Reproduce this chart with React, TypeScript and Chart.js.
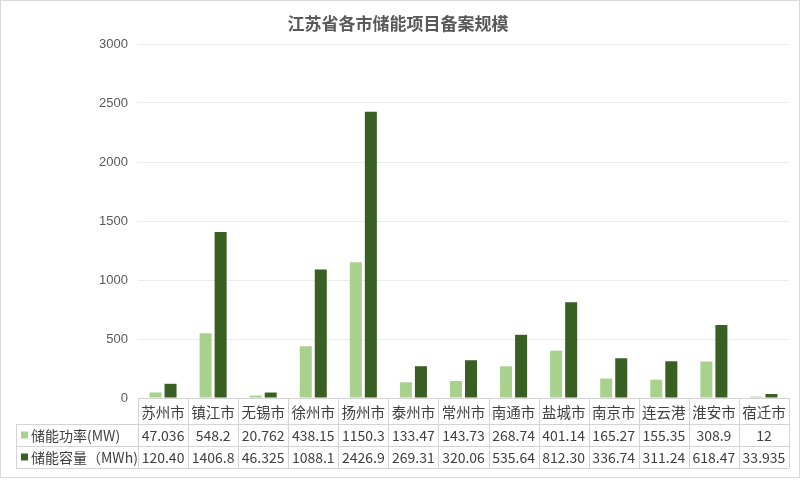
import { useEffect, useRef } from "react";
import Chart from "chart.js/auto";

const title = "江苏省各市储能项目备案规模";
const cities = [
  "苏州市", "镇江市", "无锡市", "徐州市", "扬州市", "泰州市", "常州市",
  "南通市", "盐城市", "南京市", "连云港", "淮安市", "宿迁市",
];
const powerLabel = "储能功率(MW)";
const capacityLabel = "储能容量（MWh)";
const powerText = [
  "47.036", "548.2", "20.762", "438.15", "1150.3", "133.47", "143.73",
  "268.74", "401.14", "165.27", "155.35", "308.9", "12",
];
const capacityText = [
  "120.40", "1406.8", "46.325", "1088.1", "2426.9", "269.31", "320.06",
  "535.64", "812.30", "336.74", "311.24", "618.47", "33.935",
];
const power = powerText.map(Number);
const capacity = capacityText.map(Number);

const lightGreen = "#a9d18e";
const darkGreen = "#3a5f22";
const textColor = "#595959";
const cjkFont = '"Noto Sans CJK SC", "Noto Sans", sans-serif';

// draws the title and the data table under the plot
const tablePlugin = {
  id: "dataTable",
  afterDraw(chart: Chart) {
    const { ctx, chartArea } = chart;
    const x = chart.scales.x;
    const step = (chartArea.right - chartArea.left) / cities.length;
    const top = chartArea.bottom;
    const rows = [top, top + 26, top + 48, top + 70];
    const legendLeft = 16;

    ctx.save();
    // title
    ctx.fillStyle = textColor;
    ctx.font = `bold 17px ${cjkFont}`;
    ctx.textAlign = "center";
    ctx.textBaseline = "middle";
    ctx.fillText(title, 398, 24);

    // frame
    ctx.strokeStyle = "#d9d9d9";
    ctx.lineWidth = 1;
    ctx.strokeRect(0.5, 0.5, 799, 477);

    // table lines
    ctx.strokeStyle = "#d4d4d4";
    ctx.beginPath();
    ctx.moveTo(chartArea.left, rows[0] + 0.5);
    ctx.lineTo(chartArea.right, rows[0] + 0.5);
    for (let r = 1; r < rows.length; r++) {
      ctx.moveTo(legendLeft, rows[r] + 0.5);
      ctx.lineTo(chartArea.right, rows[r] + 0.5);
    }
    ctx.moveTo(legendLeft + 0.5, rows[1]);
    ctx.lineTo(legendLeft + 0.5, rows[3]);
    for (let i = 0; i <= cities.length; i++) {
      const px = Math.round(chartArea.left + i * step) + 0.5;
      ctx.moveTo(px, rows[0]);
      ctx.lineTo(px, rows[3]);
    }
    ctx.stroke();

    // header + values
    ctx.fillStyle = "#404040";
    ctx.font = `14.5px ${cjkFont}`;
    cities.forEach((c, i) => {
      const cx = x.getPixelForValue(i);
      ctx.fillText(c, cx, (rows[0] + rows[1]) / 2 + 1);
    });
    ctx.font = `14px ${cjkFont}`;
    cities.forEach((_c, i) => {
      const cx = x.getPixelForValue(i);
      ctx.fillText(powerText[i], cx, (rows[1] + rows[2]) / 2 + 1);
      ctx.fillText(capacityText[i], cx, (rows[2] + rows[3]) / 2 + 1);
    });

    // legend cells
    ctx.textAlign = "left";
    const labels = [powerLabel, capacityLabel];
    const colors = [lightGreen, darkGreen];
    labels.forEach((l, r) => {
      const cy = (rows[r + 1] + rows[r + 2]) / 2;
      ctx.fillStyle = colors[r];
      ctx.fillRect(21, cy - 3.5, 7, 7);
      ctx.fillStyle = "#404040";
      ctx.fillText(l, 31, cy + 1);
    });
    ctx.restore();
  },
};

export default function App() {
  const canvasRef = useRef<HTMLCanvasElement | null>(null);

  useEffect(() => {
    if (!canvasRef.current) return;
    const chart = new Chart(canvasRef.current, {
      type: "bar",
      data: {
        labels: cities,
        datasets: [
          {
            label: powerLabel,
            data: power,
            backgroundColor: lightGreen,
            barPercentage: 0.8,
            categoryPercentage: 0.6,
          },
          {
            label: capacityLabel,
            data: capacity,
            backgroundColor: darkGreen,
            barPercentage: 0.8,
            categoryPercentage: 0.6,
          },
        ],
      },
      options: {
        animation: false,
        responsive: false,
        layout: { padding: { top: 44, right: 11, bottom: 82, left: 0 } },
        plugins: {
          legend: { display: false },
          title: { display: false },
          tooltip: { enabled: false },
        },
        scales: {
          x: { display: false },
          y: {
            min: 0,
            max: 3000,
            ticks: {
              stepSize: 500,
              color: textColor,
              padding: 10,
              callback: (v) => String(v),
              font: { size: 13, family: '"Liberation Sans", Arial, sans-serif' },
            },
            grid: { color: "#ebebeb", drawTicks: false },
            border: { display: false },
            afterFit: (scale) => {
              scale.width = 138;
            },
          },
        },
      },
      plugins: [tablePlugin],
    });
    return () => chart.destroy();
  }, []);

  return (
    <div style={{ position: "absolute", left: 0, top: 0, width: 800, height: 480, background: "#fff" }}>
      <canvas ref={canvasRef} width={800} height={480} />
    </div>
  );
}
